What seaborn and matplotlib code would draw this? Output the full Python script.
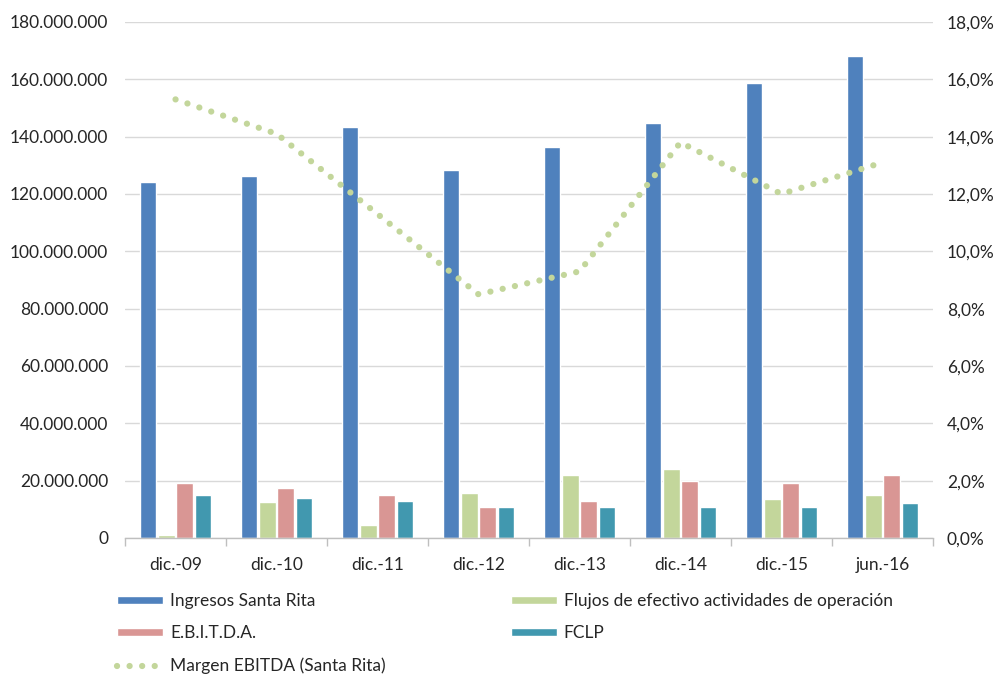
import numpy as np
import pandas as pd
import matplotlib
matplotlib.use('Agg')
import matplotlib.pyplot as plt
import matplotlib.ticker as mticker
from matplotlib.patches import Patch
from matplotlib.lines import Line2D
import seaborn as sns

# data
periodos = ['dic.-09', 'dic.-10', 'dic.-11', 'dic.-12', 'dic.-13', 'dic.-14', 'dic.-15', 'jun.-16']
ingresos = [124.2e6, 126.2e6, 143.3e6, 128.2e6, 136.3e6, 144.9e6, 158.8e6, 168.3e6]
flujos = [1.0e6, 12.5e6, 4.4e6, 15.6e6, 22.0e6, 24.0e6, 13.5e6, 14.9e6]
ebitda = [19.1e6, 17.4e6, 15.0e6, 10.9e6, 12.9e6, 19.9e6, 19.1e6, 22.0e6]
fclp = [14.9e6, 13.8e6, 12.9e6, 10.9e6, 10.9e6, 10.9e6, 10.9e6, 12.2e6]
margen = [15.3, 14.1, 11.3, 8.5, 9.3, 13.8, 12.0, 13.1]

series = ['Ingresos Santa Rita', 'Flujos de efectivo actividades de operación', 'E.B.I.T.D.A.', 'FCLP']
colores = ['#4f81bd', '#c3d69b', '#d99694', '#4198af']
verde_linea = '#c3d69b'

df = pd.DataFrame({
    'periodo': periodos * 4,
    'serie': sum([[s] * len(periodos) for s in series], []),
    'valor': ingresos + flujos + ebitda + fclp,
})

sns.set_style('white')
plt.rcParams['font.family'] = ['Lato', 'DejaVu Sans']

fig = plt.figure(figsize=(9.97, 6.79), dpi=100)
ax = fig.add_axes([0.1254, 0.2077, 0.8104, 0.7599])

sns.barplot(data=df, x='periodo', y='valor', hue='serie', palette=colores,
            width=0.72, gap=0.1, ax=ax, legend=False, saturation=1)

ax.set_ylim(0, 180e6)
ax.set_xlim(-0.5, len(periodos) - 0.5)
ax.yaxis.set_major_locator(mticker.MultipleLocator(20e6))
ax.yaxis.set_major_formatter(mticker.FuncFormatter(
    lambda v, p: '{:,.0f}'.format(v).replace(',', '.')))
ax.grid(axis='y', color='#d9d9d9', linewidth=1)
ax.set_axisbelow(True)
ax.set_xlabel('')
ax.set_ylabel('')
for s in ['left', 'right', 'top']:
    ax.spines[s].set_visible(False)
ax.spines['bottom'].set_color('#bfbfbf')
ax.spines['bottom'].set_linewidth(1)

ax.set_xticks(np.arange(-0.5, len(periodos)), minor=True)
ax.tick_params(axis='x', which='minor', bottom=True, length=6, color='#bfbfbf', width=1, direction='out')
ax.tick_params(axis='x', which='major', length=0, pad=14, labelsize=12.5)
ax.tick_params(axis='y', length=0, pad=12, labelsize=12.5)

# margen EBITDA en eje derecho, linea de puntos
punteado = (0, (0.01, 2.0))
ax2 = ax.twinx()
sns.lineplot(x=np.arange(len(periodos)), y=margen, ax=ax2, color=verde_linea,
             linewidth=4.5, linestyle=punteado, dash_capstyle='round')
ax2.set_ylim(0, 18)
ax2.yaxis.set_major_locator(mticker.MultipleLocator(2))
ax2.yaxis.set_major_formatter(mticker.FuncFormatter(
    lambda v, p: '{:.1f}%'.format(v).replace('.', ',')))
ax2.tick_params(axis='y', length=0, pad=10, labelsize=12.5)
for s in ['left', 'right', 'top', 'bottom']:
    ax2.spines[s].set_visible(False)
ax2.set_xlim(-0.5, len(periodos) - 0.5)

handles = [
    Patch(facecolor=colores[0], label=series[0]),
    Patch(facecolor=colores[2], label=series[2]),
    Line2D([0], [0], color=verde_linea, linewidth=4.5, linestyle=punteado,
           dash_capstyle='round', label='Margen EBITDA (Santa Rita)'),
    Patch(facecolor=colores[1], label=series[1]),
    Patch(facecolor=colores[3], label=series[3]),
]
fig.legend(handles=handles, ncol=2, loc='upper left', bbox_to_anchor=(0.1174, 0.126),
           frameon=False, fontsize=12.5, handlelength=2.65, handleheight=0.35,
           labelspacing=0.92, columnspacing=7.2, handletextpad=0.4, borderaxespad=0,
           borderpad=0)

fig.savefig('out.png', dpi=100)
